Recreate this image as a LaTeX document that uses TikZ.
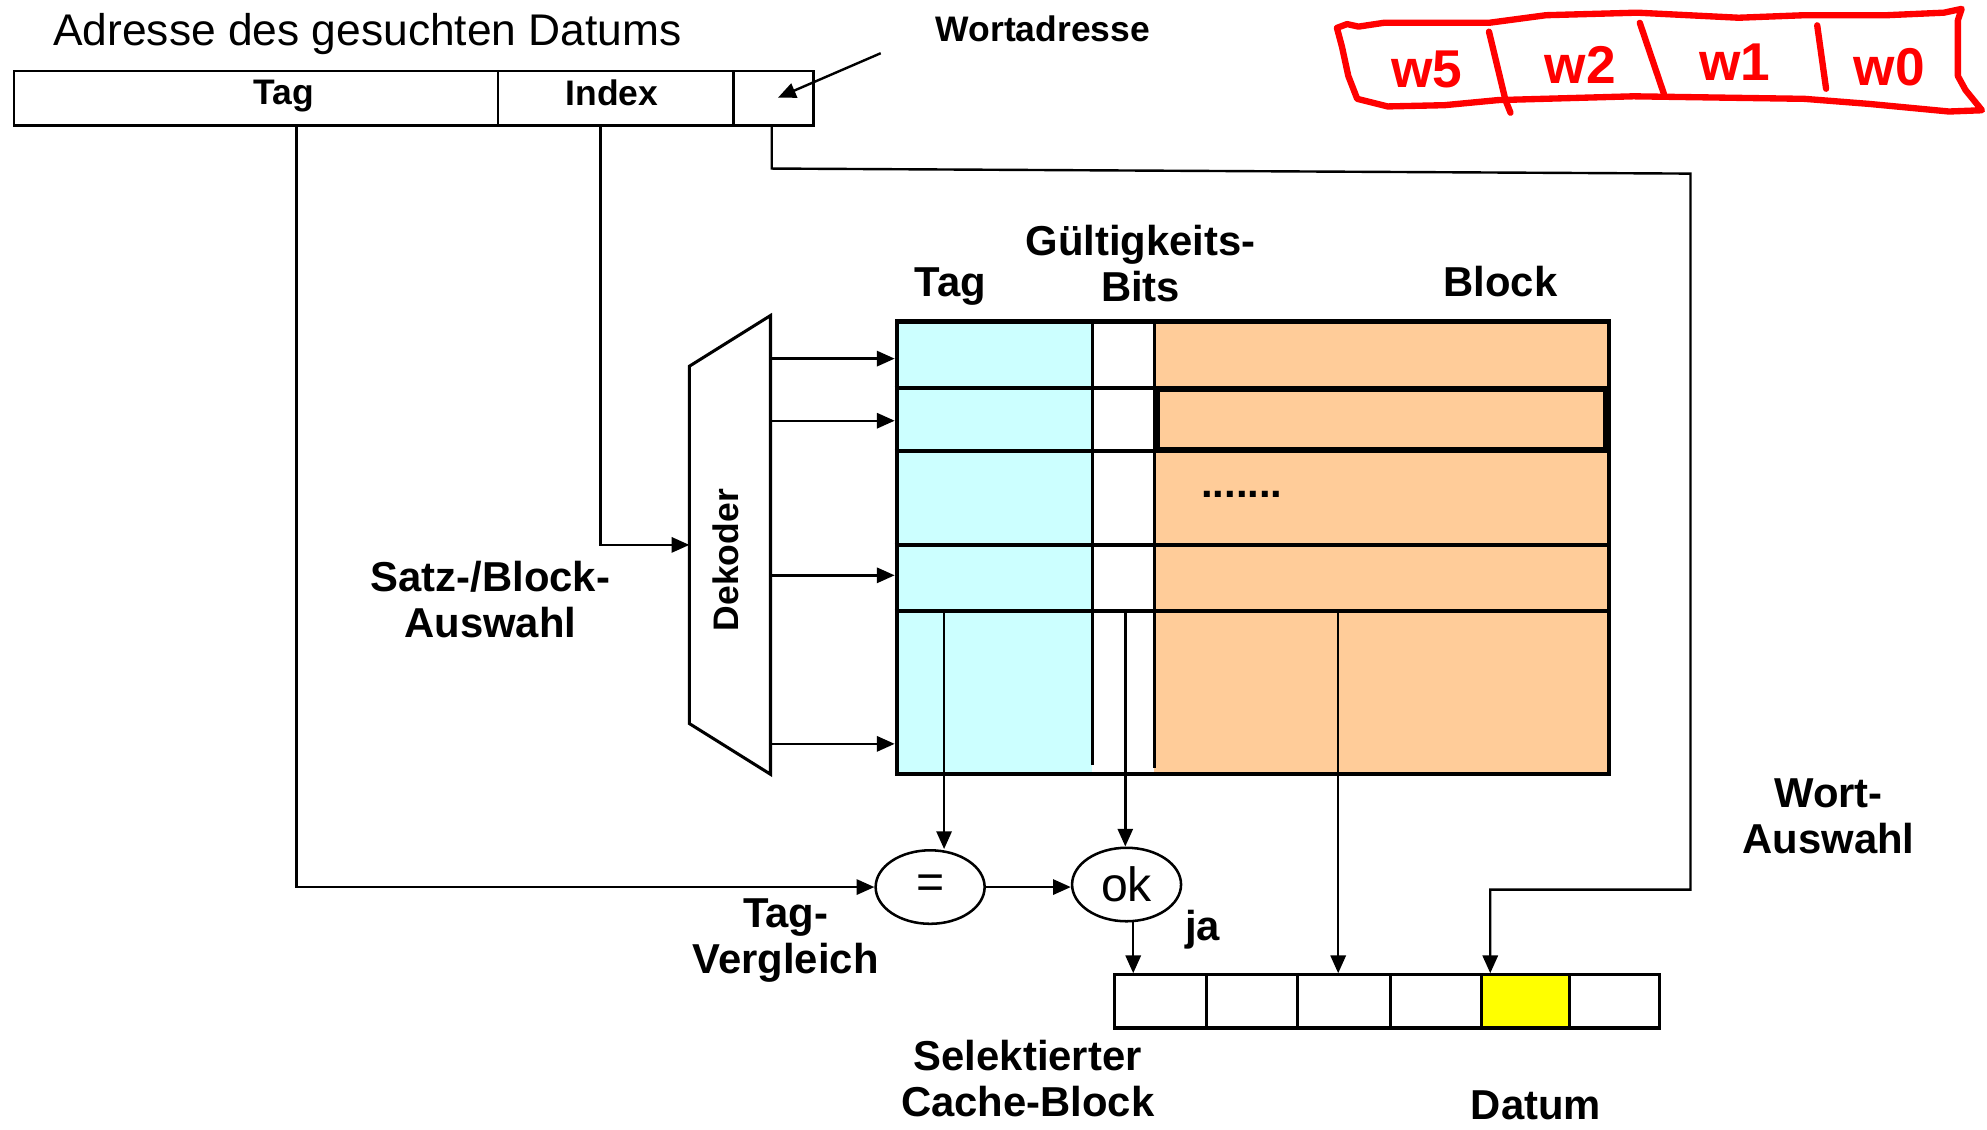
\documentclass[tikz,border=0pt]{standalone}
\usepackage{fontspec}
\setmainfont{Liberation Sans}
\usetikzlibrary{arrows.meta,shapes.geometric}
\definecolor{tagcyan}{HTML}{CCFFFF}
\definecolor{blockorange}{HTML}{FFCC99}
\definecolor{datyellow}{HTML}{FFFF00}
\definecolor{penred}{HTML}{FF0000}
\begin{document}
\begin{tikzpicture}[x=1pt,y=-1pt,
  blbl/.style={font=\fontsize{33}{36.5}\selectfont\bfseries,align=center,inner sep=0pt},
  fieldlbl/.style={font=\fontsize{28}{32}\selectfont\bfseries,inner sep=0pt},
  field/.style={draw,line width=2pt,minimum height=43pt,inner sep=0pt,anchor=north west},
  arr/.style={line width=1.9pt,-{Triangle[length=14pt,width=12pt]}},
  cmp/.style={draw,ellipse,line width=2pt,minimum width=86pt,minimum height=58pt,inner sep=0pt,font=\fontsize{38}{38}\selectfont},
  cell/.style={draw,line width=2.4pt,minimum height=42pt,inner sep=0pt,anchor=north west},
  redpen/.style={draw=penred,line width=5pt,line join=round,line cap=round},
  redtxt/.style={text=penred,font=\fontsize{42}{42}\selectfont\bfseries,inner sep=0pt},
]
\useasboundingbox (0,0) rectangle (1568,891);

% ---------- address ----------
\node[font=\fontsize{35}{35}\selectfont,inner sep=0pt] (title) at (290,27) {Adresse des gesuchten Datums};
\node[field,minimum width=382pt] (tagf) at (10,55) {};
\node[field,minimum width=186pt] (idxf) at (392,55) {};
\node[field,minimum width=63pt] (wordf) at (578,55) {};
\node[fieldlbl] (tagfl) at (224,76) {Tag};
\node[fieldlbl] (idxfl) at (483,73) {Index};
\node[fieldlbl] (wortadr) at (823,23) {Wortadresse};
\coordinate (wtail) at (695,42);
\coordinate (whead) at (614,77);
\draw[arr] (wtail) -- (whead);

% ---------- handwritten note ----------
\draw[redpen] (1055,22) -- (1063,19) -- (1072,21) -- (1092,18) -- (1175,18) -- (1220,12) -- (1292,10) -- (1372,14) -- (1424,12) -- (1489,12) -- (1534,10) -- (1548,7) -- (1545,16) -- (1545,32) -- (1545,60) -- (1551,71) -- (1564,87) -- (1538,88) -- (1475,82) -- (1424,78) -- (1289,76) -- (1182,79) -- (1140,83) -- (1095,84) -- (1071,78) -- (1064,60) -- (1059,37) -- cycle;
\draw[redpen] (1175,25) -- (1188,79) -- (1192,89);
\draw[redpen] (1294,18) -- (1313,74);
\draw[redpen] (1434,20) -- (1441,70);
\node[redtxt] (w5) at (1126,55) {w5};
\node[redtxt] (w2) at (1247,51) {w2};
\node[redtxt] (w1) at (1369,49) {w1};
\node[redtxt] (w0) at (1491,53) {w0};

% ---------- cache array ----------
\fill[tagcyan] (706,252) rectangle (862,609);
\fill[white] (862,252) rectangle (911,609);
\fill[blockorange] (911,252) rectangle (1268,609);
\foreach \yy in {306,356,430,482} \draw[line width=3pt] (706,\yy) -- (1268,\yy);
\draw[line width=2.4pt] (862,252) -- (862,604);
\draw[line width=3pt] (911,252) -- (911,606);
\draw[line width=4.5pt] (913,307) rectangle (1267,355);
\node[draw,line width=3.5pt,minimum width=562pt,minimum height=357pt,inner sep=0pt,anchor=north west] (memarray) at (706,252) {};
\node[font=\fontsize{33}{33}\selectfont\bfseries,inner sep=0pt] (dots) at (980,390) {.......};

\node[blbl] (coltag) at (750,226) {Tag};
\node[blbl] (colvalid) at (900,208) {Gültigkeits-\\Bits};
\node[blbl] (colblock) at (1184,222) {Block};

% ---------- decoder ----------
\draw[line width=2.4pt,line join=miter] (608,249) -- (544,289) -- (544,571) -- (608,611) -- cycle;
\node[font=\fontsize{28}{28}\selectfont\bfseries,inner sep=0pt,rotate=90] (dek) at (573,442) {Dekoder};
\foreach \yy in {283,332,454,587} \draw[arr] (609,\yy) -- (memarray.west |- 0,\yy);
\node[blbl] (satz) at (387,473) {Satz-/Block-\\Auswahl};

% ---------- comparators ----------
\node[cmp] (eq) at (734,700) {=};
\node[cmp] (ok) at (889,698) {ok};
\node[blbl] (tagvgl) at (620,742) {Tag-\\Vergleich};
\node[blbl] (ja) at (949,734) {ja};

% ---------- selected cache block ----------
\node[cell,minimum width=73pt] (c1) at (878,768) {};
\node[cell,minimum width=72pt] (c2) at (951,768) {};
\node[cell,minimum width=73pt] (c3) at (1023,768) {};
\node[cell,minimum width=72pt] (c4) at (1096,768) {};
\node[cell,minimum width=69pt,fill=datyellow] (c5) at (1168,768) {};
\node[cell,minimum width=71pt] (c6) at (1237,768) {};
\node[blbl] (selcb) at (811,851) {Selektierter\\Cache-Block};
\node[blbl] (datum) at (1212,872) {Datum};
\node[blbl] (wortaus) at (1443,644) {Wort-\\Auswahl};

% ---------- connectors ----------
\coordinate (tagout) at (234,98);
\coordinate (idxout) at (474,98);
\coordinate (wout) at (609,98);
\coordinate (decin) at (544,430);
\coordinate (tagtap) at (745,482);
\coordinate (validtap) at (888,482);
\coordinate (blocktap) at (1056,482);
\coordinate (wsel) at (1176,702);

\draw[arr] (tagout) |- (eq.west);
\draw[arr] (idxout) |- (decin);
\draw[arr] (wout) -- (609,133) -- (1334,137) -- (1334,702) -- (wsel) -- (wsel |- c5.north);
\draw[arr] (tagtap) -- (tagtap |- eq.north);
\draw[arr] (validtap) -- (validtap |- ok.north);
\draw[arr] (blocktap) -- (blocktap |- c3.north);
\draw[arr] (eq.east) -- (eq.east -| ok.west);
\draw[arr] (ok.-80) -- (ok.-80 |- c1.north);
\end{tikzpicture}
\end{document}
